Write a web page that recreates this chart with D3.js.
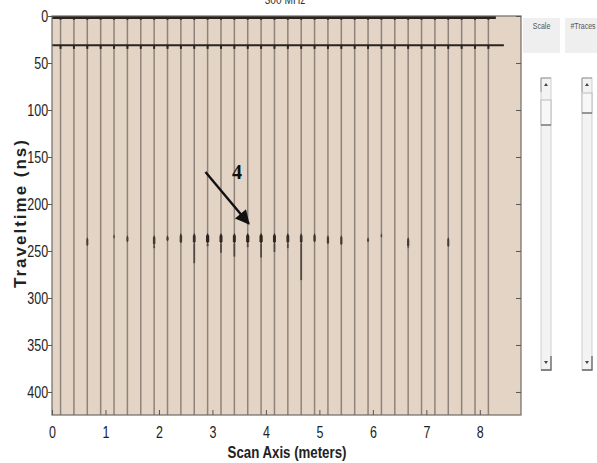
<!DOCTYPE html>
<html>
<head>
<meta charset="utf-8">
<script src="https://cdn.jsdelivr.net/npm/d3@7"></script>
<style>
  body { margin: 0; background: #fff; }
  svg { display: block; }
</style>
</head>
<body>
<svg id="chart" width="597" height="463"></svg>
<script>
// trace positions along the scan (m)
var tracePos = [0.16, 0.41, 0.66, 0.91, 1.16, 1.41, 1.66, 1.91, 2.16, 2.41, 2.66,
                2.91, 3.16, 3.41, 3.66, 3.91, 4.16, 4.41, 4.66, 4.91, 5.16, 5.41,
                5.66, 5.91, 6.16, 6.41, 6.66, 6.91, 7.16, 7.41, 7.66, 7.91, 8.16];

// horizontal direct-wave bands (ns) and where they stop (m)
var directTime = [0, 31];
var directEnd = [8.3, 8.45];

// reflection event "4": trace index, top / bottom of the wiggle (ns), amplitude
var eventTrace = [2, 4, 5, 7, 8, 9, 10, 11, 12, 13, 14, 15, 16, 17, 18, 19, 20, 21, 23, 24, 26, 29];
var eventTop   = [235, 232, 233, 233, 233, 231, 231, 231, 231, 231, 231, 231, 231, 231, 231, 231, 233, 233, 235, 231, 235, 235];
var eventBot   = [245, 237, 241, 247, 240, 242, 263, 245, 252, 256, 246, 257, 251, 247, 281, 241, 243, 244, 241, 236, 247, 246];
var eventAmp   = [0.4, 0.3, 0.4, 0.6, 0.5, 0.6, 0.8, 1.0, 0.9, 0.9, 1.0, 1.0, 0.9, 0.8, 0.7, 0.6, 0.5, 0.5, 0.4, 0.3, 0.5, 0.4];

var yTicks = [0, 50, 100, 150, 200, 250, 300, 350, 400];
var xTicks = [0, 1, 2, 3, 4, 5, 6, 7, 8];

// annotation arrow (m, ns)
var arrowFrom = [2.87, 166];
var arrowTo = [3.68, 221];
var labelAt = [3.46, 173];

var svg = d3.select('#chart');
var plotL = 52, plotR = 521, plotT = 16, plotB = 415;

var x = d3.scaleLinear().domain([0, 8.77]).range([plotL, plotR]);
var y = d3.scaleLinear().domain([0, 424.5]).range([plotT, plotB]);

var tickFont = '"Liberation Sans", Arial, sans-serif';
var narrow = 'scale(0.78,1)';

// title (cut off at the top in the original)
svg.append('text')
    .attr('transform', 'translate(285,4) ' + narrow)
    .attr('text-anchor', 'middle')
    .style('font-family', tickFont)
    .style('font-size', '13px')
    .style('fill', '#333')
    .text('300 MHz');

// plot background
svg.append('rect')
    .attr('x', plotL).attr('y', plotT)
    .attr('width', plotR - plotL).attr('height', plotB - plotT)
    .style('fill', '#e4d4c5');

// traces
svg.append('g').selectAll('line.trace')
    .data(tracePos)
    .enter()
    .append('line')
    .attr('class', 'trace')
    .attr('x1', d => x(d)).attr('x2', d => x(d))
    .attr('y1', plotT).attr('y2', plotB)
    .style('stroke', '#8e837a')
    .style('stroke-width', 1.5);

// small wiggles below each direct band
directTime.forEach(function (t) {
    svg.append('g').selectAll('line')
        .data(tracePos.filter(p => p < 8.3))
        .enter()
        .append('line')
        .attr('x1', d => x(d)).attr('x2', d => x(d))
        .attr('y1', y(t)).attr('y2', y(t + 4))
        .style('stroke', '#2e2723')
        .style('stroke-width', 2);
});

// direct wave bands
svg.append('g').selectAll('line.direct')
    .data(directTime)
    .enter()
    .append('line')
    .attr('class', 'direct')
    .attr('x1', x(0))
    .attr('x2', (d, i) => x(directEnd[i]))
    .attr('y1', d => y(d) + (d === 0 ? 1.5 : 0))
    .attr('y2', d => y(d) + (d === 0 ? 1.5 : 0))
    .style('stroke', '#2a2420')
    .style('stroke-width', (d, i) => i === 0 ? 3 : 2);

// reflection wiggles
var ampW = d3.scaleLinear().domain([0, 1]).range([1.4, 3.2]);
var ev = svg.append('g');
eventTrace.forEach(function (k, i) {
    var cx = x(tracePos[k]);
    var w = ampW(eventAmp[i]);
    var blobEnd = Math.min(eventBot[i], eventTop[i] + 11);
    // thick lobe
    ev.append('path')
        .attr('d', 'M' + cx + ',' + y(eventTop[i]) +
            ' L' + (cx + w / 2) + ',' + y(eventTop[i] + 3) +
            ' L' + (cx + w / 2) + ',' + y(blobEnd - 2) +
            ' L' + cx + ',' + y(blobEnd) +
            ' L' + (cx - w / 2) + ',' + y(blobEnd - 2) +
            ' L' + (cx - w / 2) + ',' + y(eventTop[i] + 3) + ' Z')
        .style('fill', '#2b2420')
        .style('opacity', 0.55 + 0.45 * eventAmp[i]);
    // thin tail
    if (eventBot[i] > blobEnd) {
        ev.append('line')
            .attr('x1', cx).attr('x2', cx)
            .attr('y1', y(blobEnd)).attr('y2', y(eventBot[i]))
            .style('stroke', '#3a322c')
            .style('stroke-width', 1.8)
            .style('opacity', 0.75);
    }
});

// frame
svg.append('rect')
    .attr('x', plotL).attr('y', plotT)
    .attr('width', plotR - plotL).attr('height', plotB - plotT)
    .style('fill', 'none')
    .style('stroke', '#6f6a66')
    .style('stroke-width', 1.2);

// axes
var yAxis = svg.append('g')
    .attr('transform', 'translate(' + plotL + ',0)')
    .call(d3.axisLeft(y).tickValues(yTicks).tickSizeInner(4).tickSizeOuter(0).tickPadding(1));
var yAxisR = svg.append('g')
    .attr('transform', 'translate(' + plotR + ',0)')
    .call(d3.axisRight(y).tickValues(yTicks).tickSizeInner(-5).tickSizeOuter(0).tickFormat(''));
var xAxis = svg.append('g')
    .attr('transform', 'translate(0,' + plotB + ')')
    .call(d3.axisBottom(x).tickValues(xTicks).tickSizeInner(-5).tickSizeOuter(0).tickPadding(12));

[yAxis, yAxisR, xAxis].forEach(function (a) {
    a.select('.domain').remove();
    a.selectAll('line').style('stroke', '#555');
    a.selectAll('text')
        .attr('transform', narrow)
        .style('font-family', tickFont)
        .style('font-size', '16px')
        .style('fill', '#222');
});

// axis titles
svg.append('text')
    .attr('transform', 'translate(287,458) ' + narrow)
    .attr('text-anchor', 'middle')
    .style('font-family', tickFont)
    .style('font-weight', 'bold')
    .style('font-size', '17px')
    .style('fill', '#222')
    .text('Scan Axis (meters)');

svg.append('text')
    .attr('transform', 'translate(26,213) rotate(-90)')
    .attr('text-anchor', 'middle')
    .style('font-family', '"Liberation Sans", Arial, sans-serif')
    .style('font-weight', 'bold')
    .style('font-size', '17px')
    .style('letter-spacing', '2px')
    .style('fill', '#222')
    .text('Traveltime (ns)');

// annotation
svg.append('defs').append('marker')
    .attr('id', 'head')
    .attr('viewBox', '0 0 10 10')
    .attr('refX', 9).attr('refY', 5)
    .attr('markerWidth', 7).attr('markerHeight', 6)
    .attr('markerUnits', 'strokeWidth')
    .attr('orient', 'auto')
    .append('path')
    .attr('d', 'M0,0 L10,5 L0,10 Z')
    .style('fill', '#111');

svg.append('line')
    .attr('x1', x(arrowFrom[0])).attr('y1', y(arrowFrom[1]))
    .attr('x2', x(arrowTo[0])).attr('y2', y(arrowTo[1]))
    .attr('marker-end', 'url(#head)')
    .style('stroke', '#111')
    .style('stroke-width', 2.4);

svg.append('text')
    .attr('x', x(labelAt[0])).attr('y', y(labelAt[1]))
    .attr('text-anchor', 'middle')
    .style('font-family', '"Liberation Serif", "Times New Roman", serif')
    .style('font-weight', 'bold')
    .style('font-size', '20px')
    .style('fill', '#111')
    .text('4');

// side panel: Scale and #Traces controls
var panels = [{label: 'Scale', x: 523, w: 37, thumb: [100, 125], bar: 541},
              {label: '#Traces', x: 565, w: 36, thumb: [93, 113], bar: 582}];

panels.forEach(function (p) {
    svg.append('rect')
        .attr('x', p.x).attr('y', 18)
        .attr('width', p.w).attr('height', 35)
        .style('fill', '#efefef');
    svg.append('text')
        .attr('transform', 'translate(' + (p.x + p.w / 2) + ',29) ' + narrow)
        .attr('text-anchor', 'middle')
        .style('font-family', tickFont)
        .style('font-size', '9px')
        .style('fill', '#555')
        .text(p.label);

    var g = svg.append('g');
    g.append('rect')
        .attr('x', p.bar).attr('y', 78)
        .attr('width', 10).attr('height', 292)
        .style('fill', '#f3f3f3')
        .style('stroke', '#cfcfcf');
    // top arrow button
    g.append('path')
        .attr('d', 'M' + p.bar + ',92 L' + p.bar + ',78 L' + (p.bar + 10) + ',78')
        .style('fill', 'none').style('stroke', '#999');
    g.append('path')
        .attr('d', 'M' + (p.bar + 3) + ',86 L' + (p.bar + 5) + ',83 L' + (p.bar + 7) + ',86 Z')
        .style('fill', '#444');
    // thumb
    g.append('rect')
        .attr('x', p.bar).attr('y', p.thumb[0])
        .attr('width', 10).attr('height', p.thumb[1] - p.thumb[0])
        .style('fill', '#f7f7f7')
        .style('stroke', '#bbb');
    g.append('line')
        .attr('x1', p.bar).attr('x2', p.bar + 10)
        .attr('y1', p.thumb[1]).attr('y2', p.thumb[1])
        .style('stroke', '#555');
    // bottom arrow button
    g.append('path')
        .attr('d', 'M' + (p.bar + 10) + ',356 L' + (p.bar + 10) + ',370 L' + p.bar + ',370')
        .style('fill', 'none').style('stroke', '#666').style('stroke-width', 1.3);
    g.append('path')
        .attr('d', 'M' + (p.bar + 3) + ',361 L' + (p.bar + 5) + ',364 L' + (p.bar + 7) + ',361 Z')
        .style('fill', '#444');
});
</script>
</body>
</html>
